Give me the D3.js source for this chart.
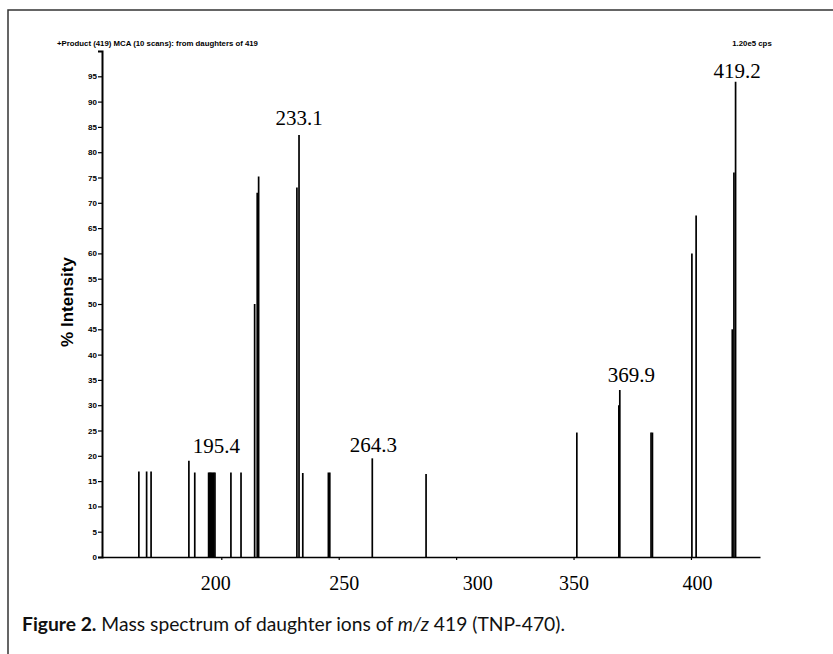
<!DOCTYPE html>
<html lang="en">
  <head>
    <meta charset="utf-8">
    <title>Mass spectrum of daughter ions of m/z 419</title>
    <script src="https://cdn.jsdelivr.net/npm/d3@7"></script>
    <style>
      body { margin: 0; background: #fff; }
      svg { display: block; }
    </style>
  </head>
  <body>
    <svg></svg>
    <script>
    // peaks (m/z, % intensity)
    var peakMz  = [164.9, 168.2, 170.1, 186.2, 188.7,
                   194.6, 195.0, 195.4, 195.8, 196.3, 196.8, 197.3,
                   204.1, 208.4, 214.2, 215.3, 215.9,
                   232.2, 233.1, 234.7, 245.6, 246.2,
                   264.3, 287.2, 351.4, 369.3, 369.7,
                   383.0, 383.6, 400.4, 402.2,
                   417.6, 418.3, 419.0];
    var peakInt = [16.9, 16.9, 16.9, 19.0, 16.7,
                   16.7, 16.7, 16.7, 16.7, 16.7, 16.7, 16.7,
                   16.7, 16.7, 50.0, 72.0, 75.2,
                   73.0, 83.4, 16.6, 16.7, 16.7,
                   19.5, 16.4, 24.6, 30.0, 33.0,
                   24.6, 24.6, 60.0, 67.5,
                   45.0, 76.0, 93.9];

    // annotated peaks
    var labelText = ["195.4", "233.1", "264.3", "369.9", "419.2"];
    var labelMz   = [195.4, 233.1, 264.3, 369.9, 419.2];
    var labelTop  = [16.7, 83.4, 19.5, 33.0, 93.9];

    // axes
    var xTicks = [200, 250, 300, 350, 400];
    var yTicks = [0, 5, 10, 15, 20, 25, 30, 35, 40, 45, 50, 55, 60, 65, 70, 75, 80, 85, 90, 95];

    var width = 833, height = 654;
    var svg = d3.select("svg").attr("width", width).attr("height", height);

    // frame (top + left only, as in the scan)
    svg.append("path")
      .attr("d", "M8,654 L8,10 L833,10")
      .attr("fill", "none")
      .attr("stroke", "#333")
      .attr("stroke-width", 1.5);

    var x = d3.scaleLinear().domain([149.2, 429.4]).range([102, 760]);
    var y = d3.scaleLinear().domain([0, 100]).range([557, 51]);

    // header texts
    svg.append("text")
      .attr("x", 57).attr("y", 46)
      .style("font", "bold 7.8px 'Liberation Sans', Arial, sans-serif")
      .text("+Product (419) MCA (10 scans): from daughters of 419");
    svg.append("text")
      .attr("x", 752).attr("y", 46)
      .attr("text-anchor", "middle")
      .style("font", "bold 7.8px 'Liberation Sans', Arial, sans-serif")
      .text("1.20e5 cps");

    // y axis
    var yAxis = svg.append("g")
      .attr("transform", "translate(102,0)")
      .call(d3.axisLeft(y).tickValues(yTicks).tickSize(4).tickSizeOuter(4).tickPadding(1));
    yAxis.select(".domain").attr("stroke", "#000").attr("stroke-width", 2);
    yAxis.selectAll(".tick line").attr("stroke", "#000").attr("stroke-width", 1.2);
    yAxis.selectAll(".tick text")
      .style("font", "bold 8px 'Liberation Sans', Arial, sans-serif")
      .attr("fill", "#000");

    svg.append("text")
      .attr("transform", "translate(73,302) rotate(-90)")
      .attr("text-anchor", "middle")
      .style("font", "bold 17px 'Liberation Sans', Arial, sans-serif")
      .text("% Intensity");

    // x axis, labels sit a little off their ticks in the print
    var labelShift = {200: -6, 250: 5, 300: 21, 350: 0, 400: 6};
    var xAxis = svg.append("g")
      .attr("transform", "translate(0,557)")
      .call(d3.axisBottom(x).tickValues(xTicks).tickSize(3).tickSizeOuter(0).tickPadding(16));
    xAxis.select(".domain").attr("stroke", "#000").attr("stroke-width", 1.6);
    xAxis.selectAll(".tick line").attr("stroke", "#000").attr("stroke-width", 1.2);
    xAxis.selectAll(".tick text")
      .attr("dx", function(d){ return labelShift[d]; })
      .style("font", "20px 'Liberation Serif', 'Times New Roman', serif")
      .attr("fill", "#000");

    // peaks
    svg.append("g").selectAll("line")
      .data(peakMz)
      .enter().append("line")
      .attr("x1", function(d){ return x(d); })
      .attr("x2", function(d){ return x(d); })
      .attr("y1", y(0))
      .attr("y2", function(d, i){ return y(peakInt[i]); })
      .attr("stroke", "#000")
      .attr("stroke-width", 1.7);

    // peak labels
    var labelDx = [6, 0, 1, 11, 1];
    var labelGap = [19, 10, 6, 8, 4];
    svg.append("g").selectAll("text")
      .data(labelText)
      .enter().append("text")
      .attr("x", function(d, i){ return x(labelMz[i]) + labelDx[i]; })
      .attr("y", function(d, i){ return y(labelTop[i]) - labelGap[i]; })
      .attr("text-anchor", "middle")
      .style("font", "21px 'Liberation Serif', 'Times New Roman', serif")
      .text(function(d){ return d; });

    // caption, sized to span the same width as the print
    var cap = svg.append("text")
      .attr("x", 22).attr("y", 631)
      .style("font", "18px Lato, 'Open Sans', sans-serif")
      .attr("fill", "#111");
    cap.append("tspan").style("font-weight", "bold").text("Figure 2.");
    cap.append("tspan").text(" Mass spectrum of daughter ions of ");
    cap.append("tspan").style("font-style", "italic").text("m/z");
    cap.append("tspan").text(" 419 (TNP-470).");
    var capLen = cap.node().getComputedTextLength();
    cap.style("font-size", (18 * 543 / capLen).toFixed(2) + "px");
    </script>
  </body>
</html>
